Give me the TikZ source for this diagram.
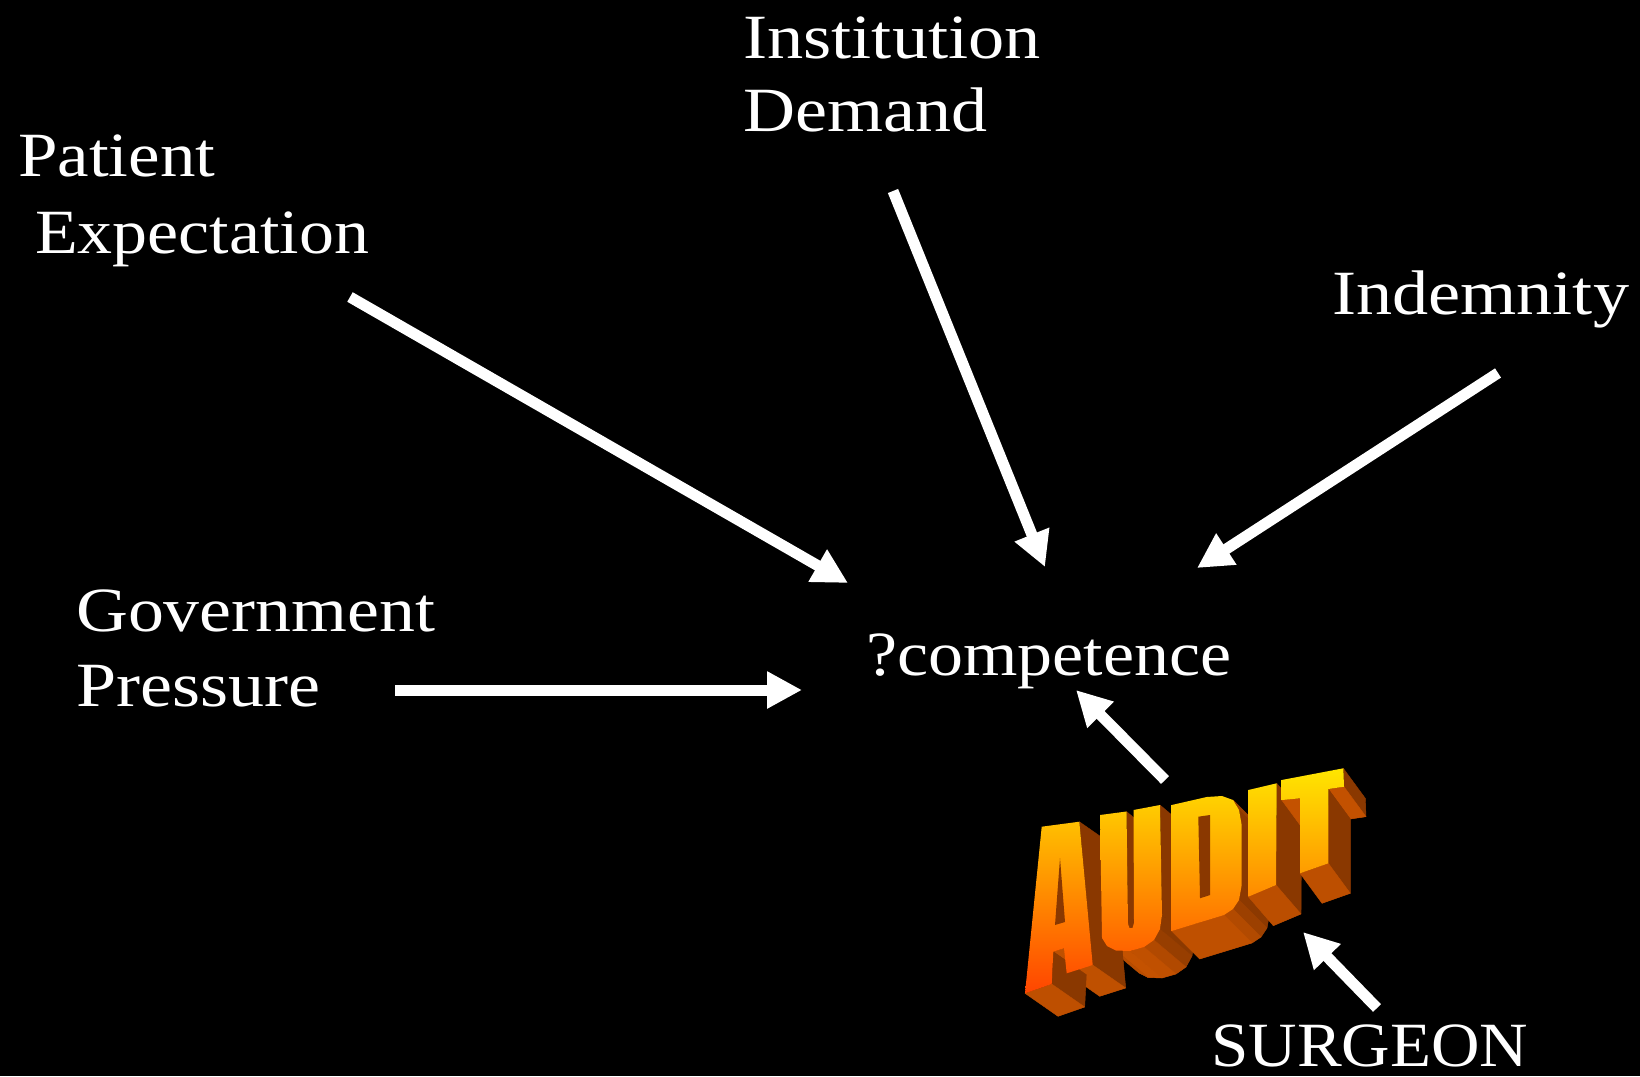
\documentclass[tikz,border=0pt]{standalone}
\usepackage{graphicx}
\usepackage{fontspec}
\setmainfont{Liberation Serif}[FakeStretch=1.11]
\usetikzlibrary{arrows.meta}

\definecolor{extlight}{HTML}{C45200}
\definecolor{extdark}{HTML}{8A3800}
\definecolor{extback}{HTML}{7A3000}
\definecolor{faceTop}{HTML}{FFE800}
\definecolor{faceMid}{HTML}{FFA800}
\definecolor{faceBot}{HTML}{FF4000}

\tikzset{
  lbl/.style={text=white, anchor=base west, inner sep=0pt,
              font=\fontsize{63}{75}\selectfont},
  push/.style={draw=white, line width=11pt,
               -{Triangle[length=35pt,width=35pt]}},
  hole/.style={fill=extdark},
}
% horizontal fitting of a single label line
\newcommand\wid[2]{\scalebox{#1}[1]{#2}}

% Side walls of an extruded letter.
% #1,#2: depth vector; #3,#4: first outline point; #5: macro holding the
% remaining points (clockwise on screen, ending with the first point again).
\newcommand\extrudeletter[5]{%
  \fill[extback] (#3+#1,#4+#2)
    \foreach \qx/\qy in #5 { -- (\qx+#1,\qy+#2) } -- cycle;
  \foreach \qx/\qy [remember=\qx as \px (initially #3),
                    remember=\qy as \py (initially #4)] in #5 {%
    \pgfmathsetmacro\facing{(\qy-\py)*(#1)-(\qx-\px)*(#2)}%
    \ifdim\facing pt>0pt
      \pgfmathsetmacro\mix{100*cos(atan2(\qy-\py,\qx-\px))^2}%
      \fill[extlight!\mix!extdark, draw=extlight!\mix!extdark,
            line width=0.4pt, line join=round]
        (\px,\py) -- (\qx,\qy) -- (\qx+#1,\qy+#2) -- (\px+#1,\py+#2) -- cycle;
    \fi
  }%
}
% Front face of a letter, shaded with one gradient shared by the whole word.
\newcommand\faceletter[3]{%
  \begin{scope}
    \clip (#1,#2) \foreach \qx/\qy in #3 { -- (\qx,\qy) } -- cycle;
    \shade[top color=faceTop, middle color=faceMid, bottom color=faceBot]
      (1000,765) rectangle (1370,1000);
  \end{scope}%
}

% letter outlines
\def\ptsA{1079.3/821.7, 1092.7/965, 1066.7/973.3, 1064/948.3, 1053.3/951.7,
  1051.7/984, 1025/993.3, 1041.7/826.7}
\def\ptsU{1126.5/811.5, 1128/924, 1129.5/928, 1132.5/928, 1134/923,
  1133.5/810, 1160/805, 1162/915, 1160/929, 1154/940, 1144/947, 1130/951,
  1116/950.5, 1107/946, 1102/938, 1100/815}
\def\ptsD{1206.7/797, 1222/796, 1233/800, 1239/810, 1241.7/825,
  1241.7/885, 1239/900, 1233/909, 1224/915, 1171.7/931, 1171.7/805}
\def\ptsI{1276.7/783.3, 1276/885, 1248.3/896.7, 1248.3/790}
\def\ptsT{1343.3/768.3, 1344/786.7, 1328.3/789, 1328.3/863.3, 1300/873.3,
  1300/798.3, 1281.7/800, 1281.7/780}

\begin{document}
\begin{tikzpicture}[x=1pt, y=-1pt]
  \fill[black] (0,0) rectangle (1640,1076);

  % labels
  \node[lbl] (inst1) at (743,58)  {\wid{1.035}{Institution}};
  \node[lbl] (inst2) at (743,131) {\wid{1.03}{Demand}};
  \node[lbl] (pat1)  at (18,176)  {\wid{1.015}{Patient}};
  \node[lbl] (pat2)  at (35,253)  {Expectation};
  \node[lbl] (indem) at (1332,314) {\wid{1.033}{Indemnity}};
  \node[lbl] (gov1)  at (76,631)  {\wid{1.027}{Government}};
  \node[lbl] (gov2)  at (76,706)  {\wid{1.03}{Pressure}};
  \node[lbl] (comp)  at (866,675) {?competence};
  \node[lbl, text depth=0pt] (surg) at (1211,1066) {\wid{0.96}{SURGEON}};

  % AUDIT: side walls first, then the shaded fronts
  \extrudeletter{32}{27}{1100}{815}{\ptsU}
  \extrudeletter{33}{23}{1041.7}{826.7}{\ptsA}
  \extrudeletter{28}{28}{1171.7}{805}{\ptsD}
  \extrudeletter{25}{29}{1248.3}{790}{\ptsI}
  \extrudeletter{22}{30}{1281.7}{780}{\ptsT}
  \faceletter{1041.7}{826.7}{\ptsA}
  \faceletter{1100}{815}{\ptsU}
  \faceletter{1171.7}{805}{\ptsD}
  \faceletter{1248.3}{790}{\ptsI}
  \faceletter{1281.7}{780}{\ptsT}
  \fill[hole] (1055,925) -- (1060,858) -- (1065,922) -- cycle;
  \fill[hole] (1198.3,816.7) -- (1210,815) -- (1210,895) -- (1200,898.3) -- cycle;

  % connector ends
  \coordinate (pat-from)  at (350,297);
  \coordinate (pat-to)    at (848,583);
  \coordinate (inst-from) at (893,191);
  \coordinate (inst-to)   at (1045,567);
  \coordinate (ind-from)  at (1498,373);
  \coordinate (ind-to)    at (1197,568);
  \coordinate (gov-from)  at (395,690);
  \coordinate (gov-to)    at (802,690);
  \coordinate (aud-from)  at (1165,780);
  \coordinate (aud-to)    at (1076,690);
  \coordinate (sur-from)  at (1377,1008);
  \coordinate (sur-to)    at (1303,932);

  \draw[push] (pat-from)  -- (pat-to);
  \draw[push] (inst-from) -- (inst-to);
  \draw[push] (ind-from)  -- (ind-to);
  \draw[push] (gov-from)  -- (gov-to);
  \draw[push] (aud-from)  -- (aud-to);
  \draw[push] (sur-from)  -- (sur-to);
\end{tikzpicture}
\end{document}
